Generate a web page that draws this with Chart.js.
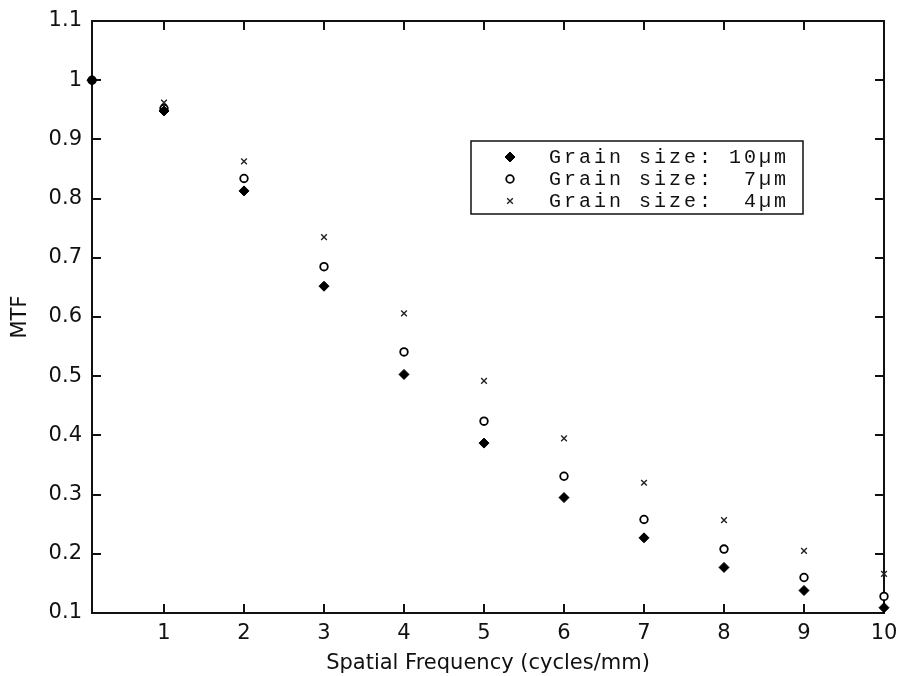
<!DOCTYPE html>
<html>
<head>
<meta charset="utf-8">
<script src="https://cdn.jsdelivr.net/npm/chart.js@4/dist/chart.umd.min.js"></script>
<style>
  html, body { margin: 0; padding: 0; background: #fff; }
  #wrap { width: 897px; height: 676px; }
</style>
</head>
<body>
<div id="wrap"><canvas id="mtf" width="897" height="676"></canvas></div>
<script>
// spatial frequency (cycles/mm)
const freqs = [0.1, 1, 2, 3, 4, 5, 6, 7, 8, 9, 10]
// MTF, one array per grain size
const mtf10 = [1.0, 0.948, 0.813, 0.652, 0.503, 0.387, 0.295, 0.227, 0.177, 0.138, 0.109]
const mtf7 = [1.0, 0.952, 0.834, 0.685, 0.541, 0.424, 0.331, 0.258, 0.208, 0.160, 0.128]
const mtf4 = [1.0, 0.962, 0.863, 0.735, 0.606, 0.492, 0.395, 0.320, 0.257, 0.205, 0.166]
const seriesLabels = ['Grain size: 10\u00b5m', 'Grain size:  7\u00b5m', 'Grain size:  4\u00b5m']
const xTicks = [1, 2, 3, 4, 5, 6, 7, 8, 9, 10]
const yTicks = [0.1, 0.2, 0.3, 0.4, 0.5, 0.6, 0.7, 0.8, 0.9, 1, 1.1]

const tickFont = { family: 'DejaVu Sans, sans-serif', size: 21 }
const toPoints = ys => ys.map((y, i) => ({ x: freqs[i], y }))

// MATLAB style box with inward ticks on all four sides
const boxAxes = {
  id: 'boxAxes',
  beforeDatasetsDraw(chart) {
    const { ctx, chartArea: { left, right, top, bottom }, scales: { x, y } } = chart
    const tl = 9
    ctx.save()
    ctx.strokeStyle = '#111'
    ctx.lineWidth = 2
    ctx.strokeRect(left, top, right - left, bottom - top)
    ctx.beginPath()
    xTicks.forEach(v => {
      const px = Math.round(x.getPixelForValue(v))
      ctx.moveTo(px, bottom); ctx.lineTo(px, bottom - tl)
      ctx.moveTo(px, top); ctx.lineTo(px, top + tl)
    })
    yTicks.forEach(v => {
      const py = Math.round(y.getPixelForValue(v))
      ctx.moveTo(left, py); ctx.lineTo(left + tl, py)
      ctx.moveTo(right, py); ctx.lineTo(right - tl, py)
    })
    ctx.stroke()
    ctx.restore()
  }
}

// boxed legend inside the axes, monospace text like the original
const boxLegend = {
  id: 'boxLegend',
  afterDatasetsDraw(chart) {
    const { ctx } = chart
    const bx = 471, by = 141, bw = 332, bh = 73
    ctx.save()
    ctx.fillStyle = '#fff'
    ctx.fillRect(bx, by, bw, bh)
    ctx.strokeStyle = '#111'
    ctx.lineWidth = 1.5
    ctx.strokeRect(bx, by, bw, bh)
    ctx.font = '20px "Liberation Mono", "DejaVu Sans Mono", monospace'
    ctx.letterSpacing = '3px'
    ctx.textBaseline = 'middle'
    chart.data.datasets.forEach((ds, i) => {
      const cy = by + 16 + i * 22
      ctx.fillStyle = ds.pointBackgroundColor
      ctx.strokeStyle = ds.pointBorderColor
      ctx.lineWidth = ds.pointBorderWidth
      Chart.helpers.drawPoint(ctx, {
        pointStyle: ds.pointStyle, radius: ds.pointRadius, rotation: 0, borderWidth: ds.pointBorderWidth
      }, 510, cy)
      ctx.fillStyle = '#111'
      ctx.fillText(seriesLabels[i], 549, cy + 1)
    })
    ctx.restore()
  }
}

new Chart(document.getElementById('mtf'), {
  type: 'scatter',
  plugins: [boxAxes, boxLegend],
  data: {
    datasets: [
      {
        label: seriesLabels[0],
        data: toPoints(mtf10),
        pointStyle: 'rectRot',
        pointRadius: 5,
        pointBackgroundColor: '#000',
        pointBorderColor: '#000',
        pointBorderWidth: 1,
        clip: false
      },
      {
        label: seriesLabels[1],
        data: toPoints(mtf7),
        pointStyle: 'circle',
        pointRadius: 3.8,
        pointBackgroundColor: '#fff',
        pointBorderColor: '#000',
        pointBorderWidth: 1.8,
        clip: false
      },
      {
        label: seriesLabels[2],
        data: toPoints(mtf4),
        pointStyle: 'crossRot',
        pointRadius: 4,
        pointBackgroundColor: '#000',
        pointBorderColor: '#222',
        pointBorderWidth: 1.4,
        clip: false
      }
    ]
  },
  options: {
    responsive: false,
    animation: false,
    events: [],
    layout: { padding: { top: 21, right: 13, left: 0, bottom: 0 } },
    plugins: { legend: false, tooltip: false },
    scales: {
      x: {
        type: 'linear',
        min: 0.1,
        max: 10,
        grid: { display: false, drawTicks: false },
        border: { display: false },
        afterBuildTicks: s => { s.ticks = xTicks.map(v => ({ value: v })) },
        afterFit: s => { s.height = 63; s.paddingLeft = 0; s.paddingRight = 0 },
        ticks: { font: tickFont, color: '#111', padding: 8, maxRotation: 0, autoSkip: false, callback: v => String(v) },
        title: {
          display: true,
          text: 'Spatial Frequency (cycles/mm)',
          font: tickFont,
          color: '#111',
          padding: { top: 0, bottom: 0 }
        }
      },
      y: {
        type: 'linear',
        min: 0.1,
        max: 1.1,
        grid: { display: false, drawTicks: false },
        border: { display: false },
        afterBuildTicks: s => { s.ticks = yTicks.map(v => ({ value: v })) },
        afterFit: s => { s.width = 92; s.paddingTop = 0; s.paddingBottom = 0 },
        ticks: { font: tickFont, color: '#111', padding: 10, autoSkip: false, callback: v => String(Number(v.toFixed(1))) },
        title: {
          display: true,
          text: 'MTF',
          font: tickFont,
          color: '#111',
          padding: { top: 8, bottom: 0 }
        }
      }
    }
  }
})
</script>
</body>
</html>
